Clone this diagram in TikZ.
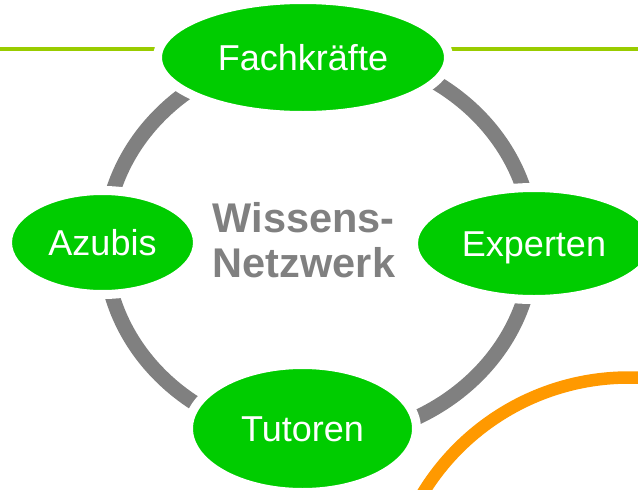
\documentclass[tikz,border=0pt]{standalone}
\usepackage{fontspec}
\setmainfont{Liberation Sans}
\usetikzlibrary{shapes.geometric}
\definecolor{blattgruen}{HTML}{00CC00}
\definecolor{linie}{HTML}{99CC00}
\definecolor{ring}{HTML}{808080}
\definecolor{bogen}{HTML}{FF9900}
\begin{document}
\begin{tikzpicture}[x=1pt,y=-1pt,
  knoten/.style={ellipse,fill=blattgruen,draw=white,line width=9pt,inner sep=0pt,
    text=white,font=\fontsize{36}{43}\selectfont,text height=26pt,text depth=0pt}]
\useasboundingbox (0,0) rectangle (638,490);
\clip (0,0) rectangle (638,490);
% Bogen und Ring
\draw[line width=12.5pt,bogen] (629,619) circle[radius=241.5pt];
\draw[line width=15pt,ring] (318.7,245) ellipse[x radius=214pt,y radius=194pt];
\coordinate (links) at (0,49);
\coordinate (rechts) at (638,49);
\draw[line width=4.5pt,linie] (links)--(rechts);
% Knoten
\node[knoten,minimum width=291pt,minimum height=116pt] (fach) at (303,57.5) {Fachkräfte};
\node[knoten,minimum width=190pt,minimum height=104pt] (azubi) at (102.5,242.5) {Azubis};
\node[knoten,minimum width=241pt,minimum height=112pt] (experten) at (534,243.5) {Experten};
\node[knoten,minimum width=228pt,minimum height=128pt] (tutor) at (302.5,428.5) {Tutoren};
\node[text=ring,font=\fontsize{41.5}{45}\selectfont\bfseries,align=left] (netz) at (304,240.5) {Wissens-\\Netzwerk};
\end{tikzpicture}
\end{document}
